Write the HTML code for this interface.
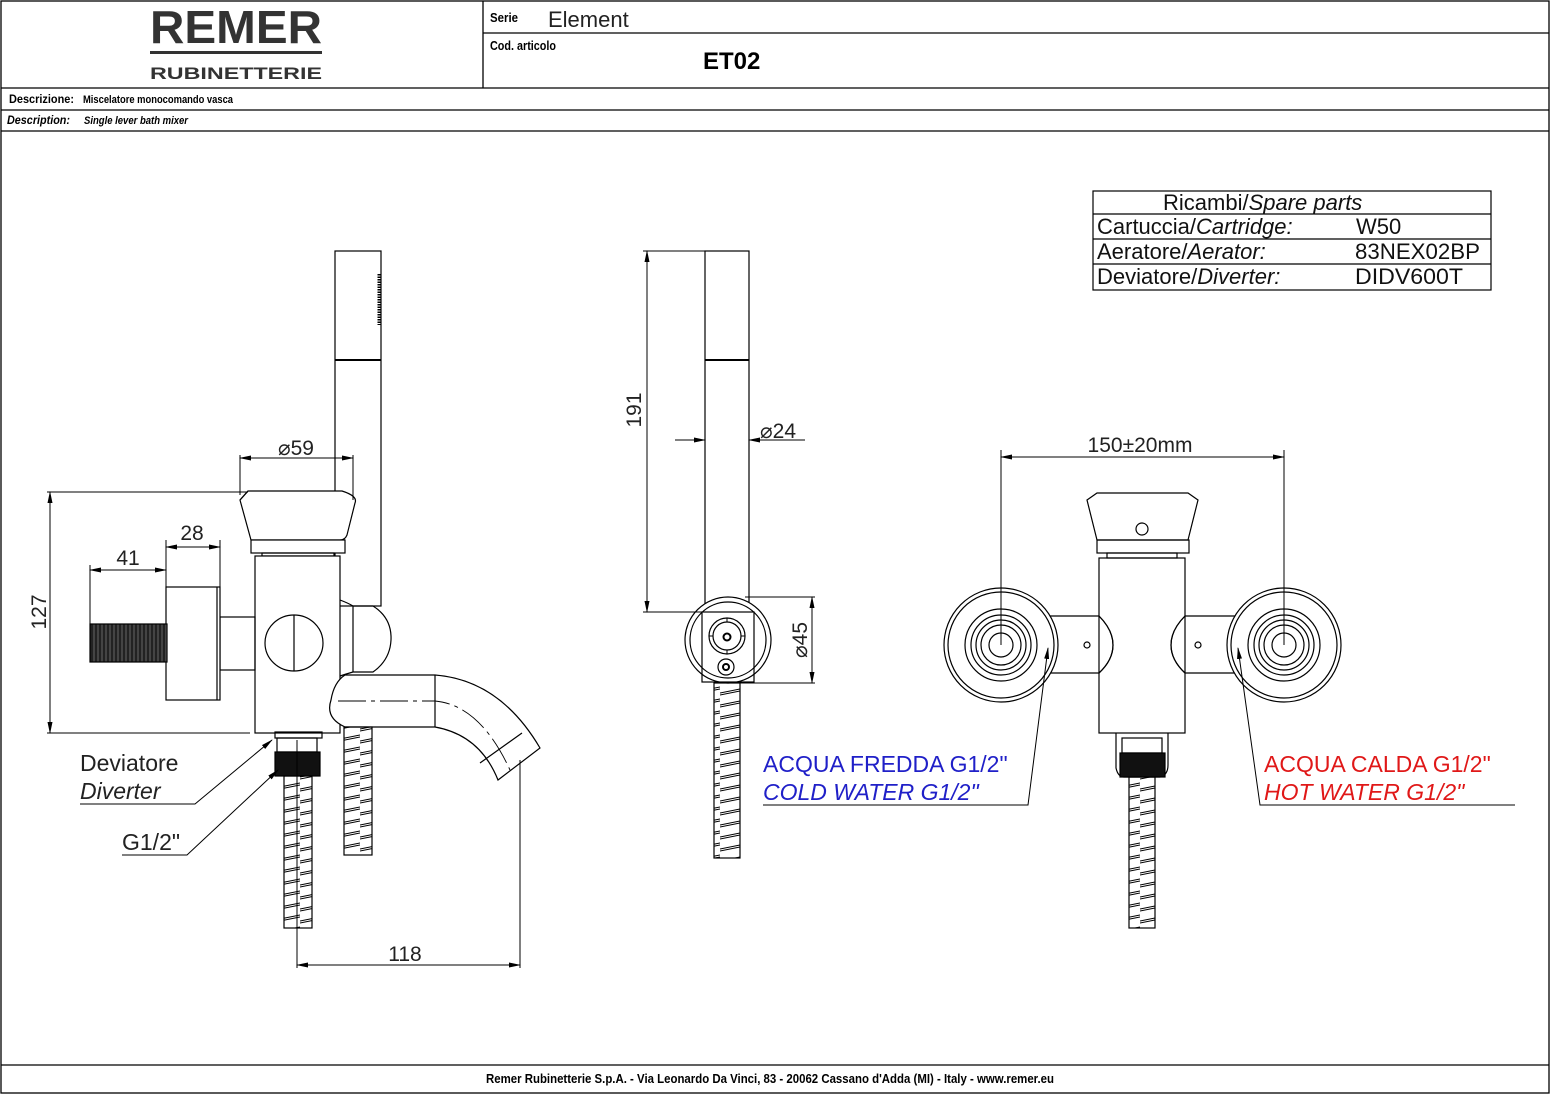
<!DOCTYPE html>
<html><head><meta charset="utf-8"><style>
html,body{margin:0;padding:0;background:#fff}
svg{display:block}
text{font-family:"Liberation Sans",sans-serif}
</style></head><body>
<svg width="1551" height="1095" viewBox="0 0 1551 1095" xmlns="http://www.w3.org/2000/svg">
<defs>
<pattern id="coil" patternUnits="userSpaceOnUse" width="30" height="12">
<path d="M0 9 L30 3 M0 11 L30 5" stroke="#000" stroke-width="1.1" fill="none"/>
</pattern>
<pattern id="thr" patternUnits="userSpaceOnUse" width="4" height="40">
<rect width="4" height="40" fill="#222"/><line x1="2" y1="0" x2="2" y2="40" stroke="#777" stroke-width="0.8"/>
</pattern>
<marker id="ar" markerWidth="12" markerHeight="8" refX="11" refY="4" orient="auto" markerUnits="userSpaceOnUse">
<path d="M0 1.5 L12 4 L0 6.5 Z" fill="#000"/></marker>
<marker id="al" markerWidth="12" markerHeight="8" refX="1" refY="4" orient="auto" markerUnits="userSpaceOnUse">
<path d="M12 1.5 L0 4 L12 6.5 Z" fill="#000"/></marker>
</defs>

<!-- frame -->
<g stroke="#000" stroke-width="1.3" fill="none">
<rect x="1" y="1" width="1548" height="1092"/>
<line x1="1" y1="88" x2="1549" y2="88"/>
<line x1="1" y1="110" x2="1549" y2="110"/>
<line x1="1" y1="131" x2="1549" y2="131"/>
<line x1="483" y1="1" x2="483" y2="88"/>
<line x1="483" y1="33" x2="1549" y2="33"/>
<line x1="1" y1="1065" x2="1549" y2="1065"/>
</g>
<text x="236" y="43" font-size="46" font-weight="bold" text-anchor="middle" fill="#333" textLength="172" lengthAdjust="spacingAndGlyphs">REMER</text>
<rect x="150" y="51" width="172" height="3" fill="#333"/>
<text x="236" y="79" font-size="17" font-weight="bold" text-anchor="middle" fill="#333" textLength="172" lengthAdjust="spacingAndGlyphs">RUBINETTERIE</text>
<text x="490" y="22" font-size="13" font-weight="bold" textLength="28" lengthAdjust="spacingAndGlyphs">Serie</text>
<text x="548" y="27" font-size="22" fill="#222">Element</text>
<text x="490" y="50" font-size="13" font-weight="bold" textLength="66" lengthAdjust="spacingAndGlyphs">Cod. articolo</text>
<text x="703" y="69" font-size="24" font-weight="bold">ET02</text>
<text x="9" y="103" font-size="12" font-weight="bold" textLength="65" lengthAdjust="spacingAndGlyphs">Descrizione:</text>
<text x="83" y="103" font-size="11" font-weight="bold" textLength="150" lengthAdjust="spacingAndGlyphs">Miscelatore monocomando vasca</text>
<text x="7" y="124" font-size="12" font-weight="bold" font-style="italic" textLength="63" lengthAdjust="spacingAndGlyphs">Description:</text>
<text x="84" y="124" font-size="11" font-weight="bold" font-style="italic" textLength="104" lengthAdjust="spacingAndGlyphs">Single lever bath mixer</text>
<text x="770" y="1083" font-size="13" font-weight="bold" text-anchor="middle" textLength="568" lengthAdjust="spacingAndGlyphs">Remer Rubinetterie S.p.A. - Via Leonardo Da Vinci, 83 - 20062 Cassano d'Adda (MI) - Italy - www.remer.eu</text>

<!-- spare parts -->
<g stroke="#000" stroke-width="1.2" fill="none">
<rect x="1093" y="191" width="398" height="99"/>
<line x1="1093" y1="214" x2="1491" y2="214"/>
<line x1="1093" y1="239" x2="1491" y2="239"/>
<line x1="1093" y1="264" x2="1491" y2="264"/>
</g>
<g font-size="22" fill="#111">
<text x="1163" y="210">Ricambi/<tspan font-style="italic">Spare parts</tspan></text>
<text x="1097" y="234">Cartuccia/<tspan font-style="italic">Cartridge:</tspan></text><text x="1356" y="234">W50</text>
<text x="1097" y="259">Aeratore/<tspan font-style="italic">Aerator:</tspan></text><text x="1355" y="259" textLength="125" lengthAdjust="spacingAndGlyphs">83NEX02BP</text>
<text x="1097" y="284">Deviatore/<tspan font-style="italic">Diverter:</tspan></text><text x="1355" y="284" textLength="108" lengthAdjust="spacingAndGlyphs">DIDV600T</text>
</g>

<!-- LEFT VIEW -->
<g stroke="#000" stroke-width="1.2" fill="none">
<rect x="335" y="251" width="46" height="355"/>
<line x1="335" y1="360" x2="381" y2="360" stroke-width="2"/>
<line x1="379" y1="274" x2="379" y2="325" stroke-width="3" stroke-dasharray="1.5 1"/>
<path d="M248 491 L342 491 Q358 496 355 503 L347 535 Q345 540 340 540 L251 540 L240 500 Z" fill="#fff"/>
<line x1="248" y1="491" x2="240" y2="500"/>
<rect x="251" y="540" width="94" height="13" fill="#fff"/>
<rect x="262" y="553" width="72" height="3"/>
<rect x="255" y="556" width="85" height="177" fill="#fff"/>
<rect x="220" y="617" width="35" height="53"/>
<rect x="166" y="587" width="54" height="113" fill="#fff"/>
<line x1="217" y1="587" x2="217" y2="700"/>
<rect x="90" y="624" width="77" height="38" fill="url(#thr)" stroke="#000"/>
<ellipse cx="294" cy="643" rx="29" ry="28" fill="#fff"/>
<line x1="294" y1="615" x2="294" y2="671"/>
<path d="M340 600 Q348 603 353 606 L373 606 Q392 618 391 640 Q390 660 373 672 L353 672 Q346 674 340 676"/>
<line x1="353" y1="606" x2="353" y2="672"/>
<path d="M345 675 L435 675 Q500 680 540 748 L498 780 Q480 735 435 727 L345 727 Q325 718 331 700 Q334 682 345 675 Z" fill="#fff"/>
<line x1="435" y1="675" x2="435" y2="727"/>
<line x1="480" y1="763" x2="522" y2="733"/>
<path d="M338 701 L435 701 Q480 705 510 770" stroke-dasharray="28 5 4 5" stroke-width="0.9"/>
<rect x="344" y="727" width="28" height="128" fill="url(#coil)"/>
<rect x="275" y="732" width="47" height="6"/>
<rect x="277" y="738" width="40" height="14"/>
<rect x="275" y="752" width="45" height="24" fill="#111"/>
<rect x="284" y="776" width="28" height="152" fill="url(#coil)"/>
<line x1="297" y1="740" x2="297" y2="968" stroke-width="1"/>
<line x1="520" y1="760" x2="520" y2="968" stroke-width="1"/>
<line x1="297" y1="965" x2="520" y2="965" stroke-width="1" marker-start="url(#al)" marker-end="url(#ar)"/>
<line x1="47" y1="492" x2="248" y2="492" stroke-width="1"/>
<line x1="47" y1="733" x2="250" y2="733" stroke-width="1"/>
<line x1="50" y1="492" x2="50" y2="733" stroke-width="1" marker-start="url(#al)" marker-end="url(#ar)"/>
<line x1="90" y1="565" x2="90" y2="624" stroke-width="1"/>
<line x1="166" y1="540" x2="166" y2="587" stroke-width="1"/>
<line x1="220" y1="540" x2="220" y2="587" stroke-width="1"/>
<line x1="90" y1="570" x2="166" y2="570" stroke-width="1" marker-start="url(#al)" marker-end="url(#ar)"/>
<line x1="166" y1="547" x2="220" y2="547" stroke-width="1" marker-start="url(#al)" marker-end="url(#ar)"/>
<line x1="240" y1="455" x2="240" y2="495" stroke-width="1"/>
<line x1="353" y1="455" x2="353" y2="500" stroke-width="1"/>
<line x1="240" y1="458" x2="353" y2="458" stroke-width="1" marker-start="url(#al)" marker-end="url(#ar)"/>
<polyline points="80,804 195,804 272,740" stroke-width="1" marker-end="url(#ar)"/>
<polyline points="122,855 187,855 278,770" stroke-width="1" marker-end="url(#ar)"/>
</g>
<g font-size="21" fill="#222">
<text x="405" y="961" text-anchor="middle">118</text>
<text x="128" y="565" text-anchor="middle">41</text>
<text x="192" y="540" text-anchor="middle">28</text>
<text x="296" y="455" text-anchor="middle">⌀59</text>
<text transform="translate(46,612) rotate(-90)" text-anchor="middle">127</text>
<text x="80" y="771" font-size="23">Deviatore</text>
<text x="80" y="799" font-size="23" font-style="italic">Diverter</text>
<text x="122" y="850" font-size="23">G1/2"</text>
</g>

<!-- MIDDLE VIEW -->
<g stroke="#000" stroke-width="1.2" fill="none">
<rect x="705" y="251" width="44" height="355"/>
<line x1="705" y1="360" x2="749" y2="360" stroke-width="2"/>
<rect x="714" y="683" width="26" height="175" fill="url(#coil)"/>
<circle cx="728" cy="640" r="43" fill="#fff"/>
<circle cx="728" cy="640" r="38"/>
<rect x="702" y="612" width="52" height="70"/>
<circle cx="727" cy="636" r="18"/>
<circle cx="727" cy="636" r="14"/>
<path d="M727 618 L727 622 M727 650 L727 654 M709 636 L713 636 M741 636 L745 636" stroke-width="1"/>
<circle cx="727" cy="637" r="3.5" stroke-width="2"/>
<circle cx="726" cy="667" r="8"/>
<circle cx="726" cy="667" r="3" stroke-width="2"/>
<line x1="643" y1="251" x2="705" y2="251" stroke-width="1"/>
<line x1="643" y1="612" x2="705" y2="612" stroke-width="1"/>
<line x1="647" y1="251" x2="647" y2="612" stroke-width="1" marker-start="url(#al)" marker-end="url(#ar)"/>
<line x1="675" y1="440" x2="705" y2="440" stroke-width="1" marker-end="url(#ar)"/>
<line x1="805" y1="440" x2="749" y2="440" stroke-width="1" marker-end="url(#ar)"/>
<line x1="745" y1="597" x2="815" y2="597" stroke-width="1"/>
<line x1="728" y1="683" x2="815" y2="683" stroke-width="1"/>
<line x1="812" y1="597" x2="812" y2="683" stroke-width="1" marker-start="url(#al)" marker-end="url(#ar)"/>
</g>
<g font-size="21" fill="#222">
<text transform="translate(641,410) rotate(-90)" text-anchor="middle">191</text>
<text x="760" y="438">⌀24</text>
<text transform="translate(807,640) rotate(-90)" text-anchor="middle">⌀45</text>
</g>

<!-- RIGHT VIEW -->
<g stroke="#000" stroke-width="1.2" fill="none">
<path d="M1048 616 L1099 616 Q1113 630 1113 645 Q1113 660 1099 673 L1048 673" fill="#fff"/>
<path d="M1236 616 L1185 616 Q1171 630 1171 645 Q1171 660 1185 673 L1236 673" fill="#fff"/>
<rect x="1099" y="558" width="86" height="175" fill="none"/>
<path d="M1099 616 Q1113 630 1113 645 Q1113 660 1099 673"/>
<path d="M1185 616 Q1171 630 1171 645 Q1171 660 1185 673"/>
<circle cx="1087" cy="645" r="3"/>
<circle cx="1198" cy="645" r="3"/>
<path d="M1097 493 L1188 493 L1198 500 L1188 540 L1097 540 L1087 500 Z" fill="#fff"/>
<rect x="1097" y="540" width="92" height="13"/>
<rect x="1107" y="553" width="70" height="5"/>
<circle cx="1142" cy="529" r="6"/>
<g fill="#fff">
<circle cx="1001" cy="645" r="57"/><circle cx="1001" cy="645" r="53"/>
<circle cx="1284" cy="645" r="57"/><circle cx="1284" cy="645" r="53"/>
</g>
<circle cx="1001" cy="645" r="36"/><circle cx="1001" cy="645" r="30"/><circle cx="1001" cy="645" r="25"/><circle cx="1001" cy="645" r="20"/><circle cx="1001" cy="645" r="12"/>
<circle cx="1284" cy="645" r="36"/><circle cx="1284" cy="645" r="30"/><circle cx="1284" cy="645" r="25"/><circle cx="1284" cy="645" r="20"/><circle cx="1284" cy="645" r="12"/>
<path d="M1116 733 L1116 768 Q1118 777 1124 777 L1160 777 Q1168 775 1168 765 L1168 733"/>
<rect x="1122" y="738" width="40" height="15"/>
<rect x="1120" y="753" width="45" height="24" fill="#111"/>
<rect x="1129" y="777" width="26" height="151" fill="url(#coil)"/>
<line x1="1001" y1="450" x2="1001" y2="645" stroke-width="1"/>
<line x1="1284" y1="450" x2="1284" y2="645" stroke-width="1"/>
<line x1="1001" y1="457" x2="1284" y2="457" stroke-width="1" marker-start="url(#al)" marker-end="url(#ar)"/>
<polyline points="763,805 1028,805 1048,648" stroke-width="1" marker-end="url(#ar)"/>
<polyline points="1515,805 1260,805 1238,648" stroke-width="1" marker-end="url(#ar)"/>
</g>
<text x="1140" y="452" font-size="21" fill="#222" text-anchor="middle">150±20mm</text>
<g font-size="23">
<text x="763" y="772" fill="#2020c8">ACQUA FREDDA G1/2"</text>
<text x="763" y="800" fill="#2020c8" font-style="italic">COLD WATER G1/2"</text>
<text x="1264" y="772" fill="#e01818">ACQUA CALDA G1/2"</text>
<text x="1264" y="800" fill="#e01818" font-style="italic">HOT WATER G1/2"</text>
</g>
</svg>
</body></html>
